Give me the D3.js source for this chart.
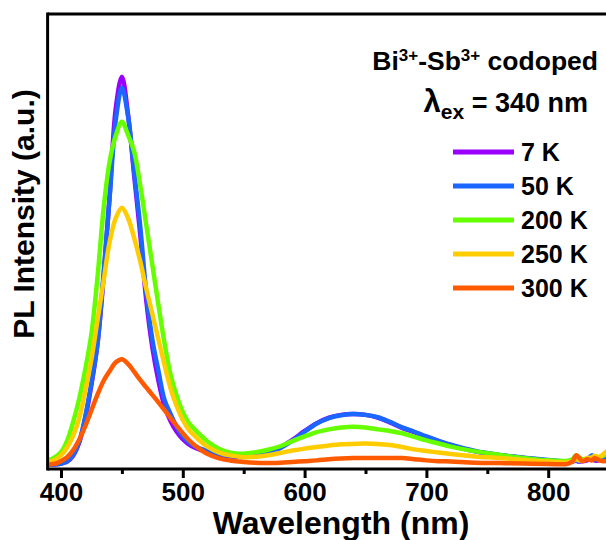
<!DOCTYPE html>
<html>
<head>
<meta charset="utf-8">
<script src="https://cdn.jsdelivr.net/npm/d3@7"></script>
<style>
  html, body { margin: 0; padding: 0; background: #fff; }
  svg { display: block; }
  text { font-family: "Liberation Sans", Arial, sans-serif; font-weight: bold; fill: #000; }
</style>
</head>
<body>
<svg id="chart" width="606" height="540"></svg>
<script>
// Emission wavelength grid (nm)
const wavelengths = [388, 392, 396, 400, 405, 410, 415, 420, 425, 430, 435, 440, 445, 450, 455, 460, 465, 470, 475, 480, 485, 490, 495, 500, 505, 510, 520, 530, 540, 550, 560, 570, 580, 590, 600, 610, 620, 630, 640, 650, 660, 670, 680, 690, 700, 710, 720, 740, 760, 780, 800, 816, 820, 823, 825, 828, 832, 836, 838, 842, 846, 850];

// PL intensity (a.u.) at each temperature
const pl7K = [0.0, 0.001, 0.002, 0.004, 0.009, 0.024, 0.058, 0.12, 0.205, 0.31, 0.48, 0.69, 0.91, 0.99, 0.895, 0.74, 0.59, 0.42, 0.3, 0.215, 0.15, 0.112, 0.085, 0.066, 0.053, 0.044, 0.033, 0.026, 0.022, 0.021, 0.024, 0.032, 0.045, 0.064, 0.087, 0.107, 0.121, 0.128, 0.13, 0.128, 0.121, 0.109, 0.095, 0.084, 0.072, 0.061, 0.051, 0.035, 0.025, 0.018, 0.012, 0.008, 0.009, 0.011, 0.009, 0.01, 0.012, 0.018, 0.012, 0.012, 0.016, 0.022];
const pl50K = [0.0, 0.001, 0.002, 0.004, 0.009, 0.026, 0.06, 0.125, 0.21, 0.31, 0.49, 0.685, 0.88, 0.962, 0.89, 0.75, 0.61, 0.44, 0.32, 0.24, 0.166, 0.13, 0.097, 0.074, 0.058, 0.048, 0.036, 0.028, 0.023, 0.021, 0.024, 0.031, 0.043, 0.062, 0.085, 0.106, 0.12, 0.127, 0.13, 0.128, 0.122, 0.11, 0.096, 0.085, 0.073, 0.062, 0.052, 0.036, 0.026, 0.019, 0.013, 0.009, 0.01, 0.012, 0.01, 0.012, 0.014, 0.025, 0.014, 0.015, 0.02, 0.028];
const pl200K = [0.01, 0.015, 0.022, 0.033, 0.062, 0.11, 0.17, 0.245, 0.335, 0.48, 0.655, 0.775, 0.84, 0.875, 0.842, 0.8, 0.714, 0.612, 0.51, 0.408, 0.311, 0.23, 0.176, 0.135, 0.107, 0.09, 0.061, 0.041, 0.031, 0.029, 0.033, 0.039, 0.048, 0.061, 0.073, 0.084, 0.091, 0.096, 0.098, 0.096, 0.091, 0.087, 0.081, 0.072, 0.063, 0.055, 0.047, 0.035, 0.026, 0.018, 0.012, 0.011, 0.015, 0.025, 0.02, 0.015, 0.016, 0.018, 0.02, 0.021, 0.025, 0.035];
const pl250K = [0.008, 0.01, 0.015, 0.025, 0.045, 0.075, 0.12, 0.19, 0.27, 0.37, 0.47, 0.57, 0.63, 0.656, 0.63, 0.58, 0.52, 0.45, 0.385, 0.32, 0.255, 0.195, 0.15, 0.115, 0.09, 0.074, 0.047, 0.032, 0.024, 0.02, 0.021, 0.025, 0.031, 0.037, 0.042, 0.046, 0.05, 0.053, 0.054, 0.055, 0.054, 0.051, 0.046, 0.04, 0.036, 0.032, 0.028, 0.022, 0.018, 0.013, 0.009, 0.007, 0.01, 0.015, 0.012, 0.012, 0.018, 0.02, 0.024, 0.02, 0.03, 0.04];
const pl300K = [0.0, 0.002, 0.004, 0.01, 0.02, 0.038, 0.065, 0.1, 0.14, 0.18, 0.215, 0.24, 0.262, 0.27, 0.258, 0.238, 0.217, 0.198, 0.179, 0.16, 0.14, 0.12, 0.1, 0.081, 0.064, 0.05, 0.029, 0.017, 0.011, 0.008, 0.006, 0.005, 0.006, 0.008, 0.01, 0.012, 0.015, 0.017, 0.018, 0.018, 0.018, 0.018, 0.018, 0.015, 0.012, 0.01, 0.009, 0.006, 0.005, 0.004, 0.003, 0.003, 0.01, 0.025, 0.02, 0.01, 0.015, 0.012, 0.018, 0.012, 0.01, 0.012];

const seriesNames = ["7 K", "50 K", "200 K", "250 K", "300 K"];
const seriesValues = [pl7K, pl50K, pl200K, pl250K, pl300K];
const seriesColors = ["#9900ff", "#1a66ff", "#66ff00", "#ffcc00", "#ff5a00"];

const xTicks = [400, 500, 600, 700, 800];
const xMinorTicks = [450, 550, 650, 750, 850];

const svg = d3.select("#chart");

// Plot frame
const plotLeft = 47.6, plotRight = 609.1, plotTop = 14, plotBottom = 469;

const x = d3.scaleLinear().domain([389, 850]).range([plotLeft, plotRight]);
const y = d3.scaleLinear().domain([-0.01, 1.15]).range([plotBottom, plotTop]);

svg.append("defs").append("clipPath").attr("id", "plotClip")
  .append("rect").attr("x", plotLeft).attr("y", plotTop)
  .attr("width", plotRight - plotLeft).attr("height", plotBottom - plotTop);

// Spectra
const line = d3.line()
  .x(d => x(d[0]))
  .y(d => y(d[1]))
  .curve(d3.curveCatmullRom.alpha(0.5));

const curves = svg.append("g").attr("clip-path", "url(#plotClip)");
seriesValues.forEach((vals, i) => {
  const pts = wavelengths.map((w, j) => [w, vals[j]]);
  curves.append("path")
    .datum(pts)
    .attr("d", line)
    .attr("fill", "none")
    .attr("stroke", seriesColors[i])
    .attr("stroke-width", 4.5)
    .attr("stroke-linejoin", "round")
    .attr("stroke-linecap", "round");
});

// Bottom axis with major and minor ticks
const xAxis = d3.axisBottom(x).tickValues(xTicks).tickSize(9).tickSizeOuter(0).tickFormat(d3.format("d"));
const gx = svg.append("g").attr("transform", `translate(0,${plotBottom})`).call(xAxis);
gx.select(".domain").remove();
gx.selectAll(".tick line").attr("stroke", "#000").attr("stroke-width", 3);
gx.selectAll(".tick text")
  .attr("y", 14)
  .attr("dy", "0.71em")
  .attr("fill", "#000")
  .style("font-size", "26px")
  .style("font-family", "'Liberation Sans', Arial, sans-serif")
  .style("font-weight", "bold");

const xMinor = d3.axisBottom(x).tickValues(xMinorTicks).tickSize(5).tickFormat("");
const gxm = svg.append("g").attr("transform", `translate(0,${plotBottom})`).call(xMinor);
gxm.select(".domain").remove();
gxm.selectAll(".tick line").attr("stroke", "#000").attr("stroke-width", 3);

// Frame lines
svg.append("line").attr("x1", plotLeft).attr("x2", 606).attr("y1", plotBottom).attr("y2", plotBottom)
  .attr("stroke", "#000").attr("stroke-width", 3);
svg.append("line").attr("x1", plotLeft).attr("x2", 606).attr("y1", plotTop).attr("y2", plotTop)
  .attr("stroke", "#000").attr("stroke-width", 3);
svg.append("line").attr("x1", plotLeft).attr("x2", plotLeft).attr("y1", plotTop - 1.5).attr("y2", plotBottom + 1.5)
  .attr("stroke", "#000").attr("stroke-width", 3);

// Axis titles
svg.append("text")
  .attr("x", 341).attr("y", 534)
  .attr("text-anchor", "middle")
  .style("font-size", "32px")
  .text("Wavelength (nm)");

svg.append("text")
  .attr("transform", "translate(34,214) rotate(-90)")
  .attr("text-anchor", "middle")
  .style("font-size", "30px")
  .text("PL Intensity (a.u.)");

// Sample annotation
const ann = svg.append("text")
  .attr("x", 598).attr("y", 70)
  .attr("text-anchor", "end")
  .style("font-size", "26.5px");
ann.append("tspan").text("Bi");
ann.append("tspan").attr("dy", -9).style("font-size", "17px").text("3+");
ann.append("tspan").attr("dy", 9).text("-Sb");
ann.append("tspan").attr("dy", -9).style("font-size", "17px").text("3+");
ann.append("tspan").attr("dy", 9).text(" codoped");

const exc = svg.append("text")
  .attr("x", 588).attr("y", 112)
  .attr("text-anchor", "end")
  .style("font-size", "27px");
exc.append("tspan").style("font-size", "31px").text("λ");
exc.append("tspan").attr("dy", 7).style("font-size", "21px").text("ex");
exc.append("tspan").attr("dy", -7).text(" = 340 nm");

// Legend
const legend = svg.append("g");
seriesNames.forEach((name, i) => {
  const ly = 152 + i * 34;
  legend.append("line")
    .attr("x1", 453).attr("x2", 514)
    .attr("y1", ly).attr("y2", ly)
    .attr("stroke", seriesColors[i])
    .attr("stroke-width", 5);
  legend.append("text")
    .attr("x", 521).attr("y", ly + 9)
    .style("font-size", "25px")
    .text(name);
});
</script>
</body>
</html>
